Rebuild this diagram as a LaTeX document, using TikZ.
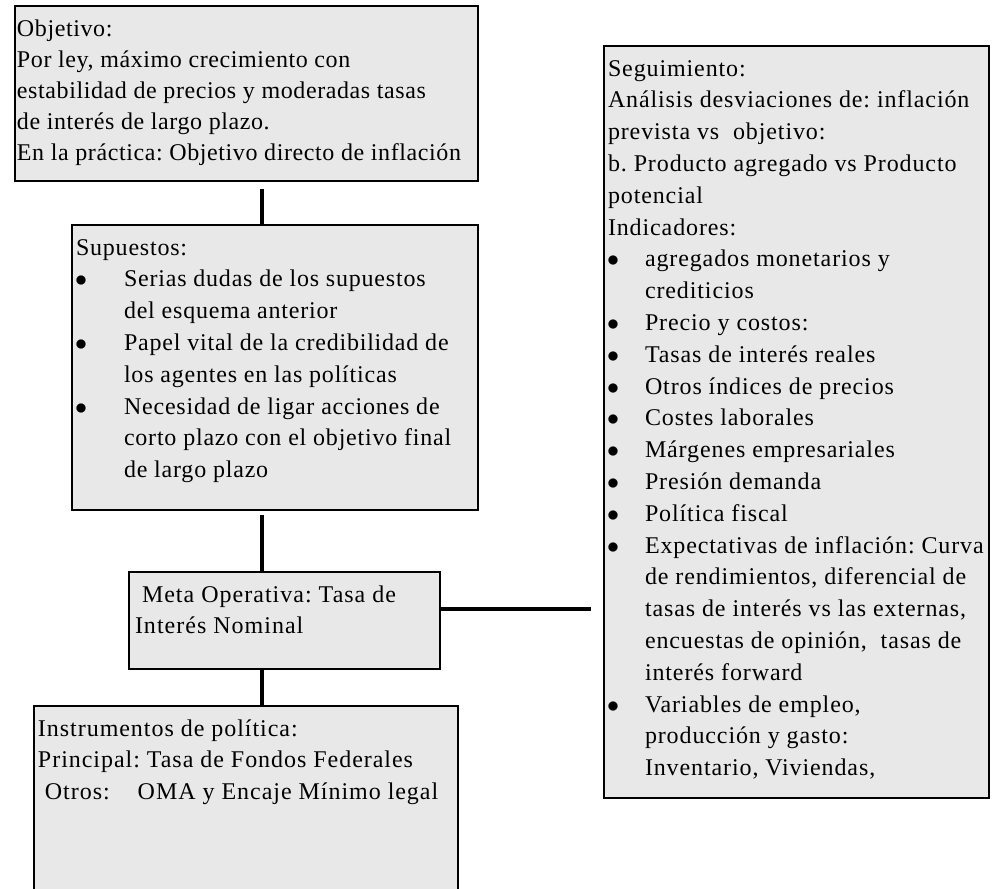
\documentclass[tikz,border=0pt]{standalone}
\usepackage{fontspec}
\setmainfont{Liberation Serif}
\usepackage{tikz}
\usetikzlibrary{positioning,calc}
\definecolor{cajagris}{RGB}{232,232,232}
\frenchspacing
\newlength{\sangria}
\setlength{\sangria}{24pt}
\newcommand{\pto}{\makebox[\sangria][l]{\hspace{-0.5pt}$\bullet$}}
\newcommand{\sgt}{\hspace*{\sangria}}
\newcommand{\arr}{\rule{0pt}{15pt}}

\begin{document}
\begin{tikzpicture}[
    x=0.5pt, y=-0.5pt,
    caja/.style={draw, line width=1pt, fill=cajagris, anchor=north west,
        inner xsep=2pt, inner ysep=0pt,
        font=\fontsize{12pt}{15.9pt}\selectfont\addfontfeature{LetterSpace=#1}},
    caja/.default=3,
    conector/.style={draw, line width=2pt}
]
\useasboundingbox (0,0) rectangle (997,889);
\clip (0,0) rectangle (997,889);

\node[caja=2.5, inner xsep=1pt] (objetivo) at (14,5) {\parbox[t][87.5pt][t]{229.5pt}{\raggedright\baselineskip=15.5pt
    \arr Objetivo:\\
    Por ley, máximo crecimiento con\\
    estabilidad de precios y moderadas tasas\\
    de interés de largo plazo.\\
    En la práctica: Objetivo directo de inflación}};

\node[caja=3.3] (supuestos) at (71,224) {\parbox[t][142.5pt][t]{199pt}{\raggedright
    \arr Supuestos:\\
    \pto Serias dudas de los supuestos\\
    \sgt del esquema anterior\\
    \pto Papel vital de la credibilidad de\\
    \sgt los agentes en las políticas\\
    \pto Necesidad de ligar acciones de\\
    \sgt corto plazo con el objetivo final\\
    \sgt de largo plazo}};

\node[caja=4.2, inner xsep=3pt] (meta) at (128,571) {\parbox[t][48.5pt][t]{149.5pt}{\raggedright
    \arr ~Meta Operativa: Tasa de\\
    Interés Nominal}};

\node[caja=4] (instrumentos) at (33,705) {\parbox[t][100pt][t]{208pt}{\raggedright
    \arr Instrumentos de política:\\
    Principal: Tasa de Fondos Federales\\
    ~Otros:\hspace{14pt}OMA y Encaje Mínimo legal}};

\node[caja=3.7] (seguimiento) at (603,45) {\parbox[t][376pt][t]{188.5pt}{\raggedright\setlength{\sangria}{18.5pt}
    \arr Seguimiento:\\
    Análisis desviaciones de: inflación\\
    prevista vs\ \ objetivo:\\
    b. Producto agregado vs Producto\\
    potencial\\
    Indicadores:\\
    \pto agregados monetarios y\\
    \sgt crediticios\\
    \pto Precio y costos:\\
    \pto Tasas de interés reales\\
    \pto Otros índices de precios\\
    \pto Costes laborales\\
    \pto Márgenes empresariales\\
    \pto Presión demanda\\
    \pto Política fiscal\\
    \mbox{\pto Expectativas de inflación: Curva}\\
    \mbox{\sgt de rendimientos, diferencial de}\\
    \mbox{\sgt tasas de interés vs las externas,}\\
    \mbox{\sgt encuestas de opinión,\ \ tasas de}\\
    \sgt interés forward\\
    \pto Variables de empleo,\\
    \sgt producción y gasto:\\
    \sgt Inventario, Viviendas,}};

\coordinate (eje) at (262,0);
\coordinate (enlace) at (591,609);
\draw[conector] ($(objetivo.south -| eje)+(0,7)$) -- (supuestos.north -| eje);
\draw[conector] ($(supuestos.south -| eje)+(0,4)$) -- (meta.north -| eje);
\draw[conector] (meta.south -| eje) -- (instrumentos.north -| eje);
\draw[conector] (meta.east |- enlace) -- (enlace);
\end{tikzpicture}
\end{document}
